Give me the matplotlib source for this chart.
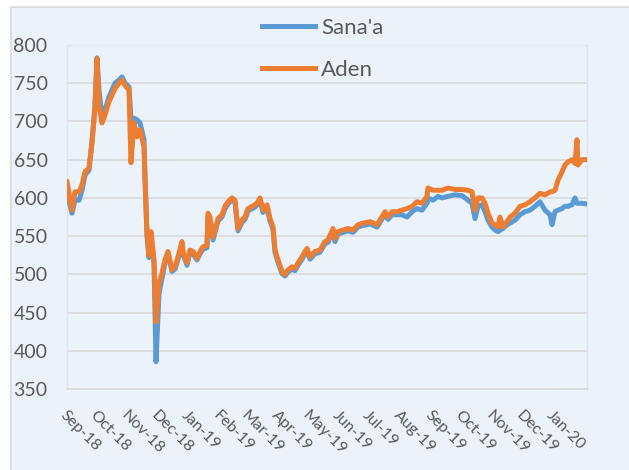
import pandas as pd
import matplotlib.pyplot as plt
import matplotlib.dates as mdates
from matplotlib.patches import Rectangle

# dati (tasso di cambio YER/USD)
dates = [
    '2018-09-01', '2018-09-06', '2018-09-09', '2018-09-13', '2018-09-16', '2018-09-19',
    '2018-09-23', '2018-09-26', '2018-09-29', '2018-10-01', '2018-10-03', '2018-10-06',
    '2018-10-09', '2018-10-13', '2018-10-16', '2018-10-19', '2018-10-23', '2018-10-26',
    '2018-10-29', '2018-11-02', '2018-11-04', '2018-11-07', '2018-11-10', '2018-11-13',
    '2018-11-17', '2018-11-18', '2018-11-20', '2018-11-22', '2018-11-24', '2018-11-27',
    '2018-11-29', '2018-12-02', '2018-12-05', '2018-12-08', '2018-12-11', '2018-12-15',
    '2018-12-18', '2018-12-21', '2018-12-25', '2018-12-26', '2018-12-30', '2019-01-02',
    '2019-01-05', '2019-01-09', '2019-01-12', '2019-01-15', '2019-01-19', '2019-01-20',
    '2019-01-22', '2019-01-25', '2019-01-27', '2019-01-30', '2019-02-03', '2019-02-06',
    '2019-02-09', '2019-02-13', '2019-02-16', '2019-02-19', '2019-02-23', '2019-02-26',
    '2019-03-01', '2019-03-05', '2019-03-08', '2019-03-11', '2019-03-13', '2019-03-16',
    '2019-03-20', '2019-03-23', '2019-03-26', '2019-03-28', '2019-03-31', '2019-04-04',
    '2019-04-07', '2019-04-10', '2019-04-14', '2019-04-17', '2019-04-20', '2019-04-24',
    '2019-04-27', '2019-04-29', '2019-05-02', '2019-05-07', '2019-05-12', '2019-05-17',
    '2019-05-20', '2019-05-25', '2019-05-27', '2019-05-30', '2019-06-04', '2019-06-09',
    '2019-06-14', '2019-06-19', '2019-06-24', '2019-07-01', '2019-07-08', '2019-07-11',
    '2019-07-16', '2019-07-19', '2019-07-23', '2019-07-28', '2019-08-02', '2019-08-07',
    '2019-08-12', '2019-08-17', '2019-08-22', '2019-08-27', '2019-08-28', '2019-09-02',
    '2019-09-07', '2019-09-11', '2019-09-17', '2019-09-24', '2019-10-01', '2019-10-07',
    '2019-10-11', '2019-10-14', '2019-10-17', '2019-10-21', '2019-10-24', '2019-10-27',
    '2019-10-31', '2019-11-03', '2019-11-06', '2019-11-08', '2019-11-11', '2019-11-15',
    '2019-11-18', '2019-11-23', '2019-11-28', '2019-12-03', '2019-12-08', '2019-12-13',
    '2019-12-18', '2019-12-23', '2019-12-28', '2019-12-30', '2020-01-02', '2020-01-05',
    '2020-01-09', '2020-01-12', '2020-01-15', '2020-01-19', '2020-01-22', '2020-01-24',
    '2020-01-25', '2020-01-29', '2020-02-03',
]

sanaa = [
    606, 580, 597, 597, 610, 630, 636, 674, 720, 783, 741, 706,
    715, 732, 741, 750, 754, 758, 750, 745, 703, 704, 702, 698,
    676, 628, 550, 522, 552, 515, 386, 475, 495, 515, 527, 504,
    507, 520, 540, 527, 512, 529, 527, 519, 527, 533, 535, 576,
    571, 545, 555, 570, 575, 586, 592, 598, 594, 557, 568, 572,
    583, 586, 588, 592, 597, 581, 588, 570, 559, 529, 516, 501,
    498, 503, 507, 505, 512, 520, 527, 531, 520, 527, 529, 540,
    542, 557, 543, 553, 555, 557, 555, 562, 564, 566, 562, 568,
    579, 572, 578, 578, 578, 575, 582, 586, 584, 593, 600, 597,
    602, 600, 602, 604, 603, 597, 593, 573, 589, 591, 582, 571,
    562, 558, 556, 558, 560, 565, 567, 571, 578, 582, 584, 589,
    595, 584, 578, 565, 582, 584, 586, 589, 589, 591, 600, 593,
    593, 593, 592,
]

aden = [
    621, 584, 608, 608, 617, 634, 639, 672, 719, 782, 719, 698,
    708, 726, 734, 743, 750, 754, 747, 741, 646, 698, 680, 689,
    667, 623, 554, 525, 556, 519, 438, 488, 502, 519, 530, 506,
    510, 523, 543, 530, 515, 532, 530, 521, 530, 536, 538, 580,
    575, 549, 558, 573, 578, 589, 595, 600, 597, 560, 571, 575,
    586, 589, 591, 595, 600, 584, 591, 573, 562, 532, 519, 504,
    500, 506, 510, 508, 515, 523, 530, 534, 523, 530, 532, 543,
    545, 560, 547, 556, 558, 560, 558, 565, 567, 569, 565, 571,
    582, 575, 582, 582, 584, 586, 589, 595, 593, 602, 613, 610,
    610, 610, 613, 611, 611, 610, 608, 584, 600, 600, 593, 580,
    567, 565, 562, 575, 562, 569, 575, 580, 589, 591, 595, 600,
    606, 604, 608, 608, 610, 623, 634, 643, 647, 650, 645, 676,
    643, 650, 650,
]

y_ticks = [350, 400, 450, 500, 550, 600, 650, 700, 750, 800]
month_ticks = pd.date_range('2018-09-01', '2020-01-01', freq='MS')

x = pd.to_datetime(dates)
bg = '#EBF2FA'
grid_col = '#D9D9D9'
txt_col = '#595959'

fig = plt.figure(figsize=(6.29, 4.70), dpi=100, facecolor='white')
# area del grafico (bordo grigio, sfondo azzurro)
fig.add_artist(Rectangle((11 / 629, -0.05), 1.1, 1 - 7 / 470 + 0.05,
                         transform=fig.transFigure, facecolor=bg,
                         edgecolor=grid_col, lw=1.2, zorder=0))

ax = fig.add_axes([67 / 629, 1 - 389.3 / 470, 520 / 629, (389.3 - 44.8) / 470])
ax.set_facecolor(bg)

ax.plot(x, sanaa, color='#5B9BD5', lw=3.6, label="Sana'a", solid_joinstyle='round', zorder=3)
ax.plot(x, aden, color='#ED7D31', lw=3.6, label='Aden', solid_joinstyle='round', zorder=4)

ax.set_ylim(350, 800)
ax.set_yticks(y_ticks)
ax.set_xlim(pd.Timestamp('2018-09-01'), pd.Timestamp('2020-02-03'))
ax.set_xticks(month_ticks)
ax.xaxis.set_major_formatter(mdates.DateFormatter('%b-%y'))

ax.grid(axis='y', color=grid_col, lw=1.2)
ax.set_axisbelow(True)
for s in ['top', 'left', 'right']:
    ax.spines[s].set_color('#DCE6F2')
    ax.spines[s].set_linewidth(1)
ax.spines['bottom'].set_color(grid_col)
ax.spines['bottom'].set_linewidth(1.2)

ax.tick_params(axis='y', length=0, pad=14, labelsize=14, labelcolor=txt_col)
ax.tick_params(axis='x', length=0, pad=13.5, labelsize=11.5, labelcolor=txt_col)
for lab in ax.get_yticklabels():
    lab.set_fontfamily('Lato')
for lab in ax.get_xticklabels():
    lab.set_fontfamily('Lato')
    lab.set_rotation(-45)
    lab.set_ha('left')
    lab.set_va('top')
    lab.set_rotation_mode('anchor')

leg = fig.legend(loc='upper left', bbox_to_anchor=(262 / 629, 1 - 18 / 470),
                 frameon=False, prop={'family': 'Lato', 'size': 16},
                 handlelength=2.4, handletextpad=0.25, labelspacing=1.0,
                 borderpad=0, borderaxespad=0)
for t in leg.get_texts():
    t.set_color(txt_col)

fig.savefig('out.png', dpi=100, facecolor='white')
